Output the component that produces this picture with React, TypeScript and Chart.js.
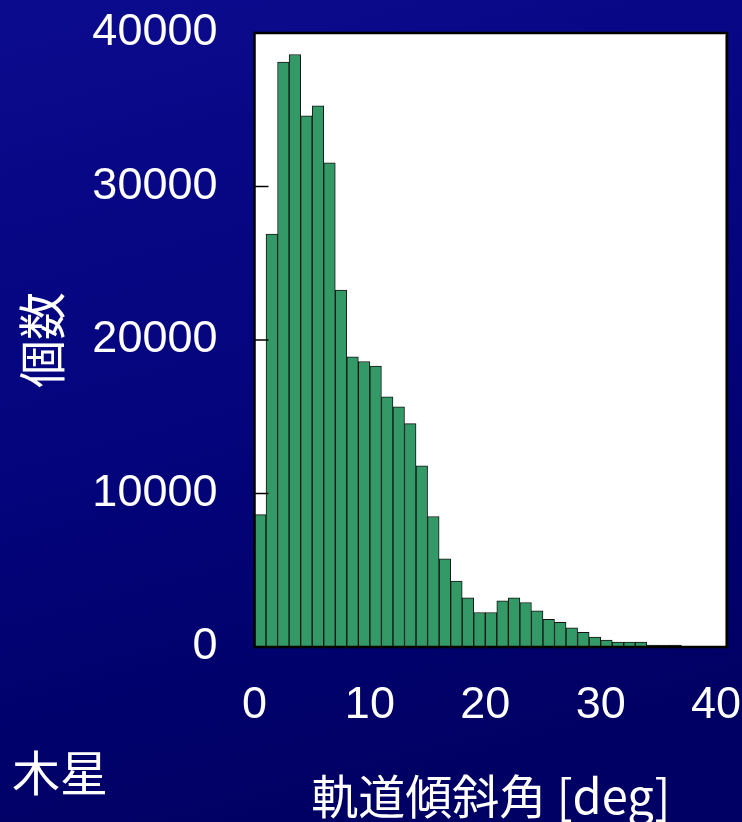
import React, { useEffect, useRef } from "react";
import { Chart, registerables } from "chart.js";

Chart.register(...registerables);

// Histogram of orbital inclination (1 deg bins, left edges 0..36)
const binStarts: number[] = [
  0, 1, 2, 3, 4, 5, 6, 7, 8, 9, 10, 11, 12, 13, 14, 15, 16, 17, 18, 19, 20,
  21, 22, 23, 24, 25, 26, 27, 28, 29, 30, 31, 32, 33, 34, 35, 36,
];
const counts: number[] = [
  8620, 26900, 38100, 38600, 34600, 35250, 31550, 23250, 18900, 18600, 18300,
  16300, 15650, 14550, 11800, 8500, 5750, 4300, 3200, 2250, 2250, 3000, 3200,
  2900, 2350, 1800, 1600, 1250, 950, 650, 450, 320, 320, 320, 130, 130, 130,
];
const xTicks: number[] = [0, 10, 20, 30, 40];
const yTicks: number[] = [0, 10000, 20000, 30000, 40000];
const xTitle = "軌道傾斜角 [deg]";
const yTitle = "個数";
const planetLabel = "木星";

const W = 742;
const H = 822;

const framePlugin = {
  id: "frame",
  beforeDraw(chart: any) {
    const { ctx, chartArea } = chart;
    const g = ctx.createLinearGradient(0, 0, W * 0.3, H);
    g.addColorStop(0, "#0b0b8e");
    g.addColorStop(0.55, "#04047c");
    g.addColorStop(1, "#000064");
    ctx.save();
    ctx.fillStyle = g;
    ctx.fillRect(0, 0, W, H);
    ctx.fillStyle = "#ffffff";
    ctx.fillRect(
      chartArea.left,
      chartArea.top,
      chartArea.right - chartArea.left,
      chartArea.bottom - chartArea.top
    );
    ctx.restore();
  },
  afterDatasetsDraw(chart: any) {
    const { ctx, chartArea } = chart;
    const y = chart.scales.y;
    ctx.save();
    // subtle shadow inside right edge
    ctx.strokeStyle = "#9a9a9a";
    ctx.lineWidth = 1;
    ctx.beginPath();
    ctx.moveTo(chartArea.right - 1.5, chartArea.top + 2);
    ctx.lineTo(chartArea.right - 1.5, chartArea.bottom);
    ctx.stroke();
    // inward ticks on y axis
    ctx.strokeStyle = "#000000";
    ctx.lineWidth = 1.5;
    for (const v of yTicks) {
      const py = y.getPixelForValue(v);
      ctx.beginPath();
      ctx.moveTo(chartArea.left, py);
      ctx.lineTo(chartArea.left + 14, py);
      ctx.stroke();
    }
    // frame
    ctx.lineWidth = 2.5;
    ctx.strokeRect(
      chartArea.left,
      chartArea.top,
      chartArea.right - chartArea.left,
      chartArea.bottom - chartArea.top
    );
    ctx.restore();
  },
};

export default function App() {
  const ref = useRef<HTMLCanvasElement | null>(null);

  useEffect(() => {
    if (!ref.current) return;
    const numFont = { family: '"Liberation Sans", Arial, sans-serif', size: 45, lineHeight: 1 };
    const cjkFont = { family: '"Noto Sans CJK JP", sans-serif', size: 47, lineHeight: 1 };
    const chart = new Chart(ref.current, {
      type: "bar",
      data: {
        datasets: [
          {
            data: binStarts.map((s, i) => ({ x: s + 0.5, y: counts[i] })),
            backgroundColor: "#339966",
            borderColor: "#141414",
            borderWidth: 1,
            barPercentage: 1,
            categoryPercentage: 1,
            grouped: false,
          },
        ],
      },
      options: {
        responsive: false,
        animation: false,
        devicePixelRatio: 1,
        layout: { padding: { top: 33, right: 15, left: 0, bottom: 0 } },
        plugins: {
          legend: { display: false },
          tooltip: { enabled: false },
        },
        scales: {
          x: {
            type: "linear",
            min: 0,
            max: 40.95,
            offset: false,
            grid: { display: false, drawTicks: false, offset: false },
            border: { display: false },
            afterBuildTicks: (scale: any) => {
              scale.ticks = xTicks.map((v) => ({ value: v }));
            },
            afterFit: (scale: any) => {
              scale.height = 175;
              scale.paddingLeft = 0;
              scale.paddingRight = 0;
              scale.paddingTop = 0;
              scale.paddingBottom = 0;
            },
            ticks: {
              color: "#ffffff",
              font: numFont,
              padding: 36,
              maxRotation: 0,
              autoSkip: false,
              callback: (v: any) => String(v),
            },
            title: {
              display: true,
              text: xTitle,
              color: "#ffffff",
              font: cjkFont,
              padding: { top: 0, bottom: 2.5 },
            },
          },
          y: {
            type: "linear",
            min: 0,
            max: 40000,
            grid: { display: false, drawTicks: false },
            border: { display: false },
            afterBuildTicks: (scale: any) => {
              scale.ticks = yTicks.map((v) => ({ value: v }));
            },
            afterFit: (scale: any) => {
              scale.width = 254.5;
              scale.paddingLeft = 0;
              scale.paddingRight = 0;
              scale.paddingTop = 0;
              scale.paddingBottom = 0;
            },
            ticks: {
              color: "#ffffff",
              font: numFont,
              padding: 37,
              autoSkip: false,
              callback: (v: any) => String(v),
            },
            title: {
              display: true,
              text: yTitle,
              color: "#ffffff",
              font: { family: '"Noto Sans CJK JP", sans-serif', size: 48, lineHeight: 1 },
              padding: { top: 18, bottom: 0 },
            },
          },
        },
      },
      plugins: [framePlugin],
    } as any);
    return () => chart.destroy();
  }, []);

  return (
    <div
      style={{
        position: "absolute",
        left: 0,
        top: 0,
        width: W,
        height: H,
        overflow: "hidden",
        background: "#04047c",
      }}
    >
      <canvas ref={ref} width={W} height={H} style={{ display: "block", width: W, height: H }} />
      <div
        style={{
          position: "absolute",
          left: 12,
          top: 746,
          fontFamily: '"Noto Sans CJK JP", sans-serif',
          fontSize: 48,
          lineHeight: "48px",
          color: "#ffffff",
          whiteSpace: "nowrap",
        }}
      >
        {planetLabel}
      </div>
    </div>
  );
}
